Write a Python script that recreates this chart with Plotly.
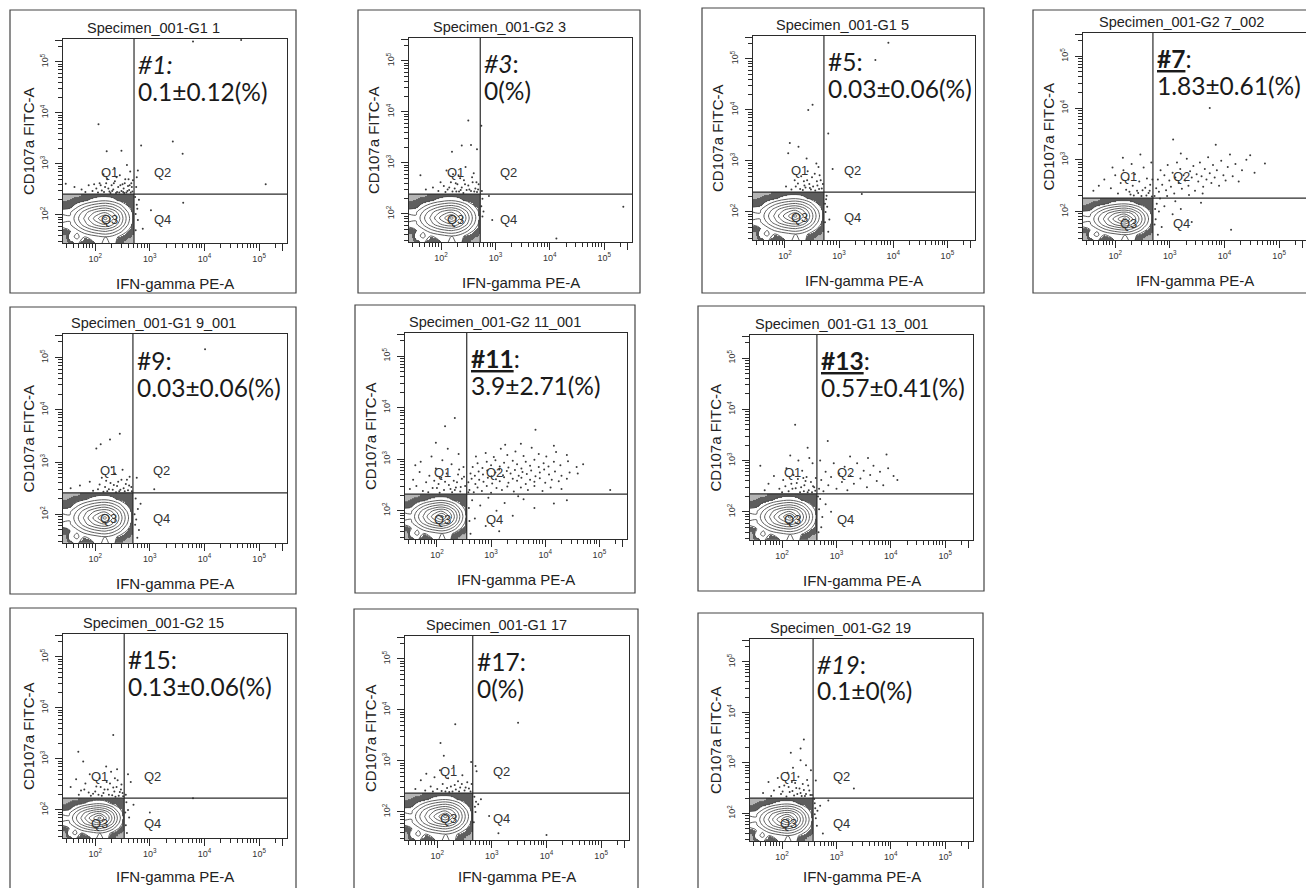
import plotly.graph_objects as go

W, H = 1306, 888

# ---------------- data ----------------
PANEL_IDS = ["1", "3", "5", "7", "9", "11", "13", "15", "17", "19"]
TITLES = ["Specimen_001-G1 1", "Specimen_001-G2 3", "Specimen_001-G1 5", "Specimen_001-G2 7_002",
          "Specimen_001-G1 9_001", "Specimen_001-G2 11_001", "Specimen_001-G1 13_001",
          "Specimen_001-G2 15", "Specimen_001-G1 17", "Specimen_001-G2 19"]
LABEL_TEXT = ["<i>#1:</i>", "<i>#3</i>:", "#5:", "<b><u>#7</u></b>:", "#9:",
              "<b><u>#11</u></b>:", "<b><u>#13</u></b>:", "#15:", "#17:", "<i>#19</i>:"]
STAT_TEXT = ["0.1±0.12(%)", "0(%)", "0.03±0.06(%)", "1.83±0.61(%)", "0.03±0.06(%)",
             "3.9±2.71(%)", "0.57±0.41(%)", "0.13±0.06(%)", "0(%)", "0.1±0(%)"]
QUAD_NAMES = ["Q1", "Q2", "Q3", "Q4"]
X_LABEL = "IFN-gamma PE-A"
Y_LABEL = "CD107a FITC-A"

# quadrant gates (log10 units)
GATE_X = [2.71, 2.72, 2.72, 2.69, 2.69, 2.55, 2.64, 2.53, 2.65, 2.57]
GATE_Y = [2.41, 2.39, 2.39, 2.26, 2.41, 2.32, 2.35, 2.23, 2.37, 2.30]

# axis scale (log10 units)
X_RANGE = [1.41, 5.51]
Y_RANGE = [1.45, 5.45]
MAJOR_TICKS = [2, 3, 4, 5, 5.42]
MAJOR_LABELS = ["10<sup>2</sup>", "10<sup>3</sup>", "10<sup>4</sup>", "10<sup>5</sup>", ""]
MINOR_TICKS = [1.477, 1.602, 1.699, 1.778, 1.845, 1.903, 1.954,
               2.301, 2.477, 2.602, 2.699, 2.778, 2.845, 2.903, 2.954,
               3.301, 3.477, 3.602, 3.699, 3.778, 3.845, 3.903, 3.954,
               4.301, 4.477, 4.602, 4.699, 4.778, 4.845, 4.903, 4.954,
               5.301]

# Q3 population density (relative grid across the Q3 gate box, rows bottom -> top)
U_GRID = [0.0, 0.1, 0.2, 0.3, 0.4, 0.5, 0.6, 0.7, 0.8, 0.9, 1.0]
V_GRID = [0.0, 0.125, 0.25, 0.375, 0.5, 0.625, 0.75, 0.875, 1.0]
Q3_DENSITY = [
    [1.0, 2.0, 2.4, 1.6, 1.9, 2.6, 3.4, 2.6, 1.7, 1.4, 1.3],
    [1.3, 2.6, 3.3, 2.2, 2.5, 2.8, 3.0, 2.7, 2.0, 1.6, 1.5],
    [1.8, 2.2, 2.8, 3.6, 4.2, 4.6, 4.8, 4.4, 3.5, 2.3, 1.6],
    [2.6, 2.9, 3.9, 5.0, 5.9, 6.6, 6.9, 6.2, 4.9, 3.2, 1.8],
    [3.7, 3.1, 4.4, 5.5, 6.7, 7.8, 9.0, 7.2, 5.4, 3.6, 2.0],
    [2.6, 2.9, 3.9, 5.0, 5.9, 6.6, 6.9, 6.2, 4.9, 3.2, 1.9],
    [1.8, 1.9, 2.8, 3.6, 4.2, 4.6, 4.8, 4.4, 3.5, 2.3, 1.8],
    [1.5, 1.6, 1.7, 2.0, 2.4, 2.7, 2.8, 2.5, 2.0, 1.8, 1.8],
    [1.3, 1.4, 1.5, 1.6, 1.7, 1.8, 1.8, 1.8, 1.8, 1.8, 1.7],
]

# events outside the contour (log10 x, log10 y)
PTS_1 = [(2.06, 3.78), (2.21, 3.25), (2.48, 3.26), (1.46, 2.61), (1.62, 2.55), (1.75, 2.50), (1.88, 2.58),
         (1.95, 2.47), (2.02, 2.52), (2.08, 2.62), (2.12, 2.48), (2.18, 2.55), (2.22, 2.70), (2.26, 2.46),
         (2.30, 2.58), (2.33, 2.50), (2.36, 2.66), (2.40, 2.45), (2.42, 2.55), (2.45, 2.78), (2.48, 2.47),
         (2.50, 2.60), (2.52, 2.52), (2.55, 2.70), (2.57, 2.44), (2.60, 2.57), (2.62, 2.49), (2.64, 2.85),
         (2.66, 2.62), (2.68, 2.46), (2.35, 2.92), (2.58, 2.98), (2.15, 2.80), (2.44, 2.44), (2.28, 2.43),
         (2.53, 2.43), (2.84, 3.36), (3.42, 3.44), (3.60, 3.20), (3.79, 5.40), (4.67, 5.43), (5.12, 2.60),
         (3.61, 2.24), (3.02, 2.09), (2.87, 1.73), (2.78, 2.87), (2.76, 2.74), (2.80, 2.30), (2.74, 2.02),
         (2.76, 2.20), (2.78, 1.90), (2.75, 2.55), (2.05, 2.44), (2.10, 2.58), (2.16, 2.45), (2.20, 2.62),
         (2.24, 2.52), (2.31, 2.47), (2.34, 2.62), (2.38, 2.43), (2.39, 2.74), (2.46, 2.58), (2.51, 2.45),
         (2.54, 2.62), (2.59, 2.47), (2.61, 2.70), (2.65, 2.44), (2.67, 2.55), (2.69, 2.68), (2.63, 2.58),
         (1.98, 2.60), (1.82, 2.45), (2.73, 2.35), (2.74, 1.70), (2.77, 2.12)]
PTS_3 = [(2.50, 3.83), (2.38, 3.34), (2.55, 3.35), (2.66, 3.27), (2.20, 3.22), (1.62, 2.76), (2.10, 2.85),
         (2.22, 2.78), (2.35, 2.70), (2.45, 2.92), (2.60, 2.80), (2.05, 2.55), (2.12, 2.48), (2.18, 2.62),
         (2.25, 2.50), (2.30, 2.58), (2.33, 2.44), (2.38, 2.52), (2.42, 2.66), (2.47, 2.47), (2.50, 2.56),
         (2.55, 2.45), (2.58, 2.62), (2.63, 2.50), (2.66, 2.43), (2.69, 2.58), (1.85, 2.52), (1.95, 2.45),
         (1.72, 2.48), (2.28, 2.44), (2.41, 2.41), (2.74, 3.73), (2.94, 1.88), (5.35, 2.14), (4.12, 1.52),
         (2.88, 2.35), (2.76, 2.30), (2.78, 2.05), (2.75, 2.45), (2.08, 2.43), (2.15, 2.52), (2.21, 2.44),
         (2.27, 2.60), (2.36, 2.47), (2.44, 2.58), (2.52, 2.48), (2.61, 2.44), (2.65, 2.62), (2.68, 2.48),
         (2.57, 2.72), (2.32, 2.76), (1.99, 2.62), (2.74, 2.15), (2.76, 1.95)]
PTS_5 = [(2.51, 4.10), (2.43, 4.00), (2.09, 3.35), (2.25, 3.28), (2.06, 3.15), (2.40, 3.05), (2.58, 2.95),
         (2.62, 2.88), (2.55, 2.75), (2.30, 2.70), (2.18, 2.62), (2.35, 2.60), (2.45, 2.55), (2.50, 2.68),
         (2.60, 2.52), (2.66, 2.62), (2.68, 2.46), (2.20, 2.50), (2.28, 2.45), (2.38, 2.48), (2.48, 2.44),
         (2.56, 2.42), (2.12, 2.44), (2.02, 2.50), (2.64, 2.72), (2.42, 2.80), (3.91, 5.32), (3.67, 4.98),
         (2.80, 3.54), (2.88, 2.84), (3.42, 2.35), (2.80, 1.61), (2.76, 2.25), (2.78, 2.10), (2.75, 2.00),
         (2.82, 1.85), (2.77, 2.32), (2.24, 2.56), (2.33, 2.43), (2.41, 2.62), (2.52, 2.50), (2.59, 2.60),
         (2.63, 2.45), (2.70, 2.55), (2.46, 2.47), (2.36, 2.52), (2.74, 1.80), (2.74, 2.16)]
PTS_7 = [(2.75, 2.45), (2.78, 2.62), (2.80, 2.38), (2.83, 2.80), (2.86, 2.52), (2.90, 2.70), (2.93, 2.41),
         (2.96, 2.90), (2.99, 2.60), (3.02, 2.48), (3.05, 2.75), (3.08, 2.35), (3.10, 2.66), (3.13, 2.95),
         (3.16, 2.55), (3.19, 2.82), (3.22, 2.44), (3.25, 2.70), (3.28, 2.60), (3.31, 3.02), (3.34, 2.50),
         (3.37, 2.78), (3.40, 2.66), (3.43, 2.88), (3.46, 2.40), (3.49, 2.72), (3.52, 2.58), (3.55, 2.95),
         (3.58, 2.68), (3.61, 2.48), (3.64, 2.82), (3.67, 2.62), (3.70, 3.05), (3.73, 2.74), (3.76, 2.55),
         (3.79, 2.90), (3.82, 2.66), (3.86, 2.80), (3.90, 2.50), (3.94, 2.98), (3.98, 2.70), (4.02, 2.60),
         (4.06, 2.86), (4.10, 3.10), (4.15, 2.68), (4.20, 2.92), (4.26, 2.58), (4.32, 2.80), (4.40, 3.00),
         (4.47, 3.09), (4.55, 2.75), (4.74, 2.93), (3.35, 2.32), (3.60, 2.35), (2.95, 2.30), (3.20, 3.12),
         (2.14, 3.04), (1.70, 2.50), (1.80, 2.62), (1.92, 2.45), (2.00, 2.70), (2.05, 2.35), (2.10, 2.55),
         (2.15, 2.80), (2.20, 2.42), (2.24, 2.62), (2.28, 2.33), (2.32, 2.50), (2.36, 2.72), (2.40, 2.40),
         (2.44, 2.58), (2.48, 2.30), (2.52, 2.85), (2.55, 2.46), (2.58, 2.64), (2.61, 2.36), (2.64, 2.52),
         (2.66, 2.95), (2.67, 2.29), (2.46, 3.10), (2.30, 2.92), (1.95, 2.85), (1.60, 2.40), (3.73, 4.00),
         (3.06, 3.39), (3.84, 3.29), (4.12, 1.65), (3.57, 2.17), (2.76, 2.15), (2.80, 2.00), (2.74, 1.85),
         (2.90, 2.10), (3.05, 1.95), (3.20, 2.05), (3.40, 1.80), (2.85, 1.70), (2.78, 1.55), (3.10, 2.20),
         (2.26, 2.38), (2.34, 2.31), (2.42, 2.36), (2.50, 2.41), (2.57, 2.31), (2.63, 2.40), (2.68, 2.62),
         (2.72, 2.30), (2.73, 2.05), (2.72, 1.75), (2.82, 2.25)]
PTS_9 = [(2.45, 3.54), (2.27, 3.43), (2.10, 3.34), (2.02, 3.26), (1.55, 2.50), (1.72, 2.55), (1.90, 2.62),
         (2.05, 2.48), (2.12, 2.70), (2.18, 2.52), (2.22, 2.44), (2.28, 2.60), (2.32, 2.47), (2.36, 2.78),
         (2.40, 2.54), (2.44, 2.44), (2.48, 2.66), (2.52, 2.50), (2.56, 2.58), (2.60, 2.46), (2.63, 2.72),
         (2.66, 2.52), (2.30, 2.90), (2.50, 2.85), (2.15, 2.43), (2.38, 2.42), (4.01, 5.16), (3.08, 2.48),
         (2.76, 2.70), (2.74, 2.30), (2.78, 2.10), (2.75, 1.90), (2.80, 1.70), (2.77, 1.55), (2.83, 2.20),
         (2.08, 2.57), (2.20, 2.64), (2.25, 2.48), (2.34, 2.56), (2.42, 2.62), (2.46, 2.47), (2.54, 2.44),
         (2.58, 2.66), (2.62, 2.55), (2.67, 2.44), (1.96, 2.45), (2.72, 2.00), (2.73, 1.80)]
PTS_11 = [(2.60, 2.40), (2.68, 2.36), (2.75, 2.45), (2.83, 2.38), (2.92, 2.48), (3.00, 2.35), (3.10, 2.44),
          (3.20, 2.40), (3.30, 2.47), (3.42, 2.37), (3.55, 2.45), (3.68, 2.40), (3.80, 2.48), (3.95, 2.38),
          (4.10, 2.45), (4.30, 2.42), (2.58, 2.55), (2.64, 2.62), (2.71, 2.52), (2.78, 2.60), (2.86, 2.56),
          (2.94, 2.64), (3.02, 2.53), (3.09, 2.61), (3.16, 2.57), (3.24, 2.65), (3.32, 2.54), (3.40, 2.62),
          (3.48, 2.58), (3.56, 2.64), (3.64, 2.52), (3.72, 2.60), (3.80, 2.56), (3.90, 2.63), (4.00, 2.54),
          (4.12, 2.60), (4.25, 2.57), (4.40, 2.62), (2.62, 2.72), (2.70, 2.68), (2.77, 2.76), (2.85, 2.70),
          (2.93, 2.78), (3.01, 2.67), (3.08, 2.74), (3.15, 2.80), (3.22, 2.69), (3.29, 2.77), (3.36, 2.72),
          (3.44, 2.79), (3.51, 2.68), (3.58, 2.75), (3.66, 2.71), (3.74, 2.78), (3.82, 2.67), (3.90, 2.74),
          (3.98, 2.80), (4.07, 2.70), (4.18, 2.76), (4.30, 2.68), (4.45, 2.74), (4.60, 2.72), (2.66, 2.85),
          (2.75, 2.92), (2.84, 2.83), (2.92, 2.95), (3.00, 2.88), (3.08, 2.98), (3.16, 2.86), (3.24, 2.93),
          (3.32, 2.84), (3.40, 2.97), (3.48, 2.90), (3.56, 2.82), (3.64, 2.95), (3.72, 2.87), (3.80, 2.99),
          (3.88, 2.85), (3.97, 2.92), (4.06, 2.86), (4.16, 2.95), (4.28, 2.88), (4.42, 2.96), (4.58, 2.85),
          (4.70, 2.90), (2.72, 3.05), (2.90, 3.12), (3.05, 3.04), (3.18, 3.20), (3.30, 3.08), (3.45, 3.15),
          (3.60, 3.06), (3.75, 3.22), (3.88, 3.10), (4.02, 3.05), (4.20, 3.14), (4.40, 3.08), (3.26, 3.28),
          (3.55, 3.30), (4.16, 3.26), (1.50, 2.42), (1.56, 2.60), (1.62, 2.48), (1.68, 2.75), (1.74, 2.38),
          (1.80, 2.55), (1.86, 2.68), (1.92, 2.44), (1.98, 2.82), (2.03, 2.52), (2.08, 2.64), (2.13, 2.40),
          (2.18, 2.72), (2.22, 2.50), (2.27, 2.90), (2.31, 2.58), (2.35, 2.45), (2.39, 2.70), (2.43, 2.37),
          (2.46, 2.62), (2.49, 2.85), (2.52, 2.48), (1.70, 2.95), (1.90, 3.05), (2.10, 2.98), (2.40, 3.10),
          (2.20, 3.20), (1.98, 3.32), (2.33, 3.80), (2.15, 3.64), (1.60, 2.88), (2.28, 2.36), (2.05, 2.35),
          (1.84, 2.36), (3.98, 4.55), (3.82, 3.57), (5.20, 2.40), (4.16, 2.14), (2.65, 2.20), (2.80, 2.10),
          (2.95, 2.25), (3.10, 2.00), (3.25, 2.15), (3.40, 1.90), (3.60, 2.22), (3.80, 2.05), (2.70, 1.85),
          (2.90, 1.70), (3.15, 1.60), (2.62, 1.55), (3.50, 2.28), (4.40, 2.20), (2.00, 2.44), (2.15, 2.56),
          (2.25, 2.42), (2.37, 2.55), (2.44, 2.46), (2.50, 2.66), (2.41, 2.80), (2.33, 2.40), (1.95, 2.58),
          (2.58, 2.36), (2.59, 2.05), (2.60, 1.80)]
PTS_13 = [(2.24, 3.70), (2.47, 3.25), (1.60, 2.90), (1.75, 2.55), (1.85, 2.70), (1.95, 2.45), (2.02, 2.62),
          (2.08, 2.85), (2.12, 2.40), (2.17, 2.55), (2.21, 2.72), (2.25, 2.46), (2.29, 2.64), (2.33, 2.38),
          (2.37, 2.80), (2.41, 2.52), (2.45, 2.68), (2.49, 2.42), (2.53, 2.58), (2.56, 2.95), (2.59, 2.48),
          (2.62, 2.66), (2.30, 3.00), (2.50, 3.05), (2.00, 2.38), (2.40, 2.40), (2.55, 2.38), (1.68, 2.42),
          (2.15, 3.10), (2.84, 3.38), (3.92, 3.12), (2.68, 2.45), (2.72, 2.62), (2.76, 2.40), (2.80, 2.78),
          (2.85, 2.52), (2.90, 2.68), (2.95, 2.95), (3.00, 2.45), (3.05, 2.75), (3.10, 2.58), (3.15, 2.88),
          (3.20, 2.42), (3.26, 2.70), (3.32, 2.55), (3.38, 2.95), (3.44, 2.65), (3.50, 2.80), (3.56, 2.48),
          (3.62, 2.72), (3.68, 2.90), (3.74, 2.60), (3.80, 2.78), (3.86, 2.52), (3.95, 2.85), (4.05, 2.70),
          (4.12, 2.62), (3.25, 3.08), (2.70, 3.00), (3.58, 3.05), (2.70, 2.25), (2.68, 2.05), (2.74, 1.90),
          (2.80, 2.15), (2.72, 1.70), (2.90, 2.00), (2.67, 1.60), (2.06, 2.50), (2.19, 2.45), (2.27, 2.56),
          (2.35, 2.48), (2.43, 2.60), (2.47, 2.38), (2.57, 2.50), (2.61, 2.41), (2.39, 2.66), (2.66, 2.30)]
PTS_15 = [(2.33, 3.47), (1.69, 3.14), (1.78, 2.95), (1.55, 2.45), (1.65, 2.60), (1.74, 2.38), (1.82, 2.52),
          (1.90, 2.70), (1.96, 2.32), (2.02, 2.46), (2.08, 2.62), (2.12, 2.28), (2.17, 2.40), (2.21, 2.55),
          (2.25, 2.30), (2.29, 2.75), (2.33, 2.44), (2.37, 2.26), (2.41, 2.58), (2.45, 2.35), (2.48, 2.50),
          (2.51, 2.27), (2.20, 2.85), (1.88, 2.34), (2.40, 2.80), (2.60, 2.70), (2.65, 2.55), (3.79, 2.23),
          (2.57, 2.15), (2.60, 2.00), (2.62, 1.85), (2.56, 1.70), (2.70, 2.10), (2.58, 1.55), (3.00, 1.95),
          (1.70, 2.30), (1.80, 2.40), (1.92, 2.28), (2.00, 2.36), (2.06, 2.30), (2.10, 2.45), (2.15, 2.33),
          (2.23, 2.40), (2.27, 2.52), (2.31, 2.29), (2.35, 2.36), (2.39, 2.45), (2.43, 2.28), (2.47, 2.40),
          (2.50, 2.33), (2.36, 2.62), (2.56, 2.30), (2.55, 1.95)]
PTS_17 = [(2.33, 3.72), (2.06, 3.35), (2.12, 3.10), (1.70, 2.62), (1.80, 2.75), (1.88, 2.50), (1.95, 2.68),
          (2.00, 2.45), (2.05, 2.82), (2.10, 2.55), (2.15, 2.40), (2.20, 2.66), (2.25, 2.50), (2.30, 2.90),
          (2.34, 2.44), (2.38, 2.60), (2.42, 2.48), (2.46, 2.72), (2.50, 2.42), (2.55, 2.58), (2.58, 2.46),
          (2.62, 2.98), (1.60, 2.45), (2.28, 2.40), (3.48, 3.75), (2.70, 2.90), (2.72, 2.80), (2.68, 2.30),
          (2.75, 2.15), (2.70, 2.00), (2.95, 1.92), (3.12, 1.58), (4.00, 1.55), (2.80, 2.25), (2.67, 1.80),
          (1.78, 2.42), (1.92, 2.40), (2.08, 2.41), (2.18, 2.47), (2.22, 2.39), (2.32, 2.53), (2.40, 2.40),
          (2.45, 2.55), (2.52, 2.48), (2.61, 2.40), (2.63, 2.55), (2.69, 2.10), (2.71, 2.20)]
PTS_19 = [(2.40, 3.46), (2.34, 3.28), (2.16, 3.20), (2.34, 3.05), (1.75, 2.62), (1.85, 2.45), (1.92, 2.70),
          (1.98, 2.38), (2.04, 2.55), (2.10, 2.80), (2.14, 2.42), (2.18, 2.62), (2.22, 2.35), (2.26, 2.50),
          (2.30, 2.72), (2.34, 2.40), (2.38, 2.58), (2.42, 2.34), (2.46, 2.66), (2.50, 2.45), (2.53, 2.85),
          (2.55, 2.36), (2.20, 2.90), (2.44, 2.95), (1.65, 2.40), (2.08, 2.33), (3.32, 2.49), (2.62, 2.65),
          (2.60, 2.20), (2.65, 2.05), (2.62, 1.90), (2.70, 2.15), (2.64, 1.75), (2.85, 2.25), (2.75, 1.60),
          (1.80, 2.34), (1.95, 2.52), (2.01, 2.43), (2.12, 2.52), (2.19, 2.44), (2.24, 2.60), (2.28, 2.38),
          (2.32, 2.49), (2.40, 2.46), (2.44, 2.38), (2.48, 2.55), (2.52, 2.36), (2.36, 2.34), (2.59, 2.28),
          (2.61, 2.10), (2.60, 1.98)]
PANEL_POINTS = [PTS_1, PTS_3, PTS_5, PTS_7, PTS_9, PTS_11, PTS_13, PTS_15, PTS_17, PTS_19]

# ---------------- layout (pixels) ----------------
BOX = [(10, 10, 296, 293), (358, 10, 640, 293), (702, 8, 984, 293), (1033, 10, 1330, 293),
       (10, 307, 296, 594), (355, 305, 635, 593), (698, 306, 984, 591),
       (10, 608, 296, 900), (354, 609, 638, 900), (698, 613, 983, 900)]
PLOT = [(63, 39, 287, 243), (409, 38, 632, 242), (753, 36, 975, 240), (1083, 33, 1307, 240),
        (63, 334, 287, 543), (405, 333, 627, 539), (750, 335, 973, 540),
        (63, 634, 287, 838), (405, 636, 629, 840), (750, 639, 973, 841)]

FRAME = "#2b2b2b"
SMALL_FONT = "Liberation Sans, Arial, sans-serif"
BIG_FONT = "Lato, Open Sans, sans-serif"
CLEAR = "rgba(255,255,255,0)"
BAND_SCALE = [[0, CLEAR], [0.0999, CLEAR], [0.1, "#b4b4b4"], [0.1549, "#b4b4b4"],
              [0.155, "#5e5e5e"], [0.2199, "#5e5e5e"], [0.22, CLEAR], [1, CLEAR]]

fig = go.Figure()
shapes, annotations = [], []
axes = {}


def px_x(v):
    return v / W


def px_y(v):
    return 1 - v / H


def edges(nodes):
    mids = [(a + b) / 2 for a, b in zip(nodes[:-1], nodes[1:])]
    return [nodes[0]] + mids + [nodes[-1]]


for i, pid in enumerate(PANEL_IDS):
    s = "" if i == 0 else str(i + 1)
    xa, ya = "x" + s, "y" + s
    bl, bt, br, bb = BOX[i]
    pl, pt, pr, pb = PLOT[i]
    xr = list(X_RANGE)
    pr_c = pr
    if pr > W:
        xr[1] = X_RANGE[0] + (X_RANGE[1] - X_RANGE[0]) * (W - pl) / (pr - pl)
        pr_c = W
    tickfont = dict(family=SMALL_FONT, size=9, color="#333")
    common = dict(showgrid=False, zeroline=False, showline=True, mirror=True,
                  linecolor=FRAME, linewidth=1.2, tickmode="array",
                  tickvals=MAJOR_TICKS, ticktext=MAJOR_LABELS, ticks="outside",
                  ticklen=7, tickwidth=1, tickcolor=FRAME, tickfont=tickfont,
                  minor=dict(tickmode="array", tickvals=MINOR_TICKS, ticks="outside",
                             ticklen=4, tickwidth=1, tickcolor=FRAME, showgrid=False),
                  fixedrange=True)
    axes["xaxis" + s] = dict(domain=[px_x(pl), px_x(pr_c)], range=xr, anchor=ya, **common)
    axes["yaxis" + s] = dict(domain=[px_y(pb), px_y(pt)], range=Y_RANGE, anchor=xa,
                             tickangle=-90, ticklabelstandoff=3, **common)

    gx, gy = GATE_X[i], GATE_Y[i]
    cx = [X_RANGE[0] + u * (gx - X_RANGE[0]) for u in U_GRID]
    cy = [Y_RANGE[0] + v * (gy - Y_RANGE[0]) for v in V_GRID]

    # dense outlier events surrounding the contours
    fig.add_trace(go.Heatmap(
        x=edges(cx), y=edges(cy), z=Q3_DENSITY, xaxis=xa, yaxis=ya, zmin=0, zmax=10,
        colorscale=BAND_SCALE, zsmooth="best", showscale=False, hoverinfo="skip"))
    # contour lines
    fig.add_trace(go.Contour(
        x=cx, y=cy, z=Q3_DENSITY, xaxis=xa, yaxis=ya, showscale=False, hoverinfo="skip",
        autocontour=False,
        contours=dict(start=2.2, end=8.6, size=0.8, coloring="none"),
        line=dict(color="#4d4d4d", width=0.9, smoothing=1.0)))

    pts = PANEL_POINTS[i]
    fig.add_trace(go.Scatter(
        x=[p[0] for p in pts], y=[p[1] for p in pts], mode="markers", xaxis=xa, yaxis=ya,
        marker=dict(size=2.0, color="#3a3a3a"), hoverinfo="skip", showlegend=False))

    # gates
    shapes.append(dict(type="line", xref=xa, yref=ya, x0=gx, x1=gx, y0=Y_RANGE[0], y1=Y_RANGE[1],
                       line=dict(color=FRAME, width=1.2)))
    shapes.append(dict(type="line", xref=xa, yref=ya, x0=X_RANGE[0], x1=xr[1], y0=gy, y1=gy,
                       line=dict(color=FRAME, width=1.2)))
    # outer panel box
    shapes.append(dict(type="rect", xref="paper", yref="paper", x0=px_x(bl), x1=px_x(br),
                       y0=px_y(bb), y1=px_y(bt), line=dict(color="#444", width=1.2), layer="below"))

    # title and axis titles
    annotations.append(dict(text=TITLES[i], xref="paper", yref="paper", x=px_x((bl + br) / 2),
                            y=px_y(pt - 1), showarrow=False, xanchor="center", yanchor="bottom",
                            font=dict(family=SMALL_FONT, size=14.5, color="#222")))
    annotations.append(dict(text=X_LABEL, xref="paper", yref="paper", x=px_x((pl + pr) / 2),
                            y=px_y(min(pb + 40, 876)), showarrow=False, xanchor="center",
                            yanchor="middle",
                            font=dict(family=SMALL_FONT, size=15, color="#222")))
    annotations.append(dict(text=Y_LABEL, xref="paper", yref="paper", x=px_x(pl - 35),
                            y=px_y((pt + pb) / 2), showarrow=False, xanchor="center",
                            yanchor="middle", textangle=-90,
                            font=dict(family=SMALL_FONT, size=15, color="#222")))

    # quadrant labels
    qpos = [(gx - 0.45, gy + 0.42), (gx + 0.52, gy + 0.42), (gx - 0.45, gy - 0.5), (gx + 0.52, gy - 0.5)]
    for name, (qx, qy) in zip(QUAD_NAMES, qpos):
        annotations.append(dict(text=name, xref=xa, yref=ya, x=qx, y=qy, showarrow=False,
                                xanchor="center", yanchor="middle",
                                font=dict(family=SMALL_FONT, size=13, color="#333")))

    # sample label and statistic
    annotations.append(dict(text=LABEL_TEXT[i], xref=xa, yref=ya, x=gx, y=4.95, xshift=2,
                            showarrow=False, xanchor="left", yanchor="middle",
                            font=dict(family=BIG_FONT, size=24.5, color="#1a1a1a")))
    annotations.append(dict(text=STAT_TEXT[i], xref=xa, yref=ya, x=gx, y=4.43, xshift=2,
                            showarrow=False, xanchor="left", yanchor="middle",
                            font=dict(family=BIG_FONT, size=24.5, color="#1a1a1a")))

fig.update_layout(width=W, height=H, margin=dict(l=0, r=0, t=0, b=0),
                  paper_bgcolor="white", plot_bgcolor="white", showlegend=False,
                  shapes=shapes, annotations=annotations, **axes)

fig.write_html("out.html", config={"displayModeBar": False},
               post_script="document.body.style.margin='0';document.body.style.overflow='hidden';")
